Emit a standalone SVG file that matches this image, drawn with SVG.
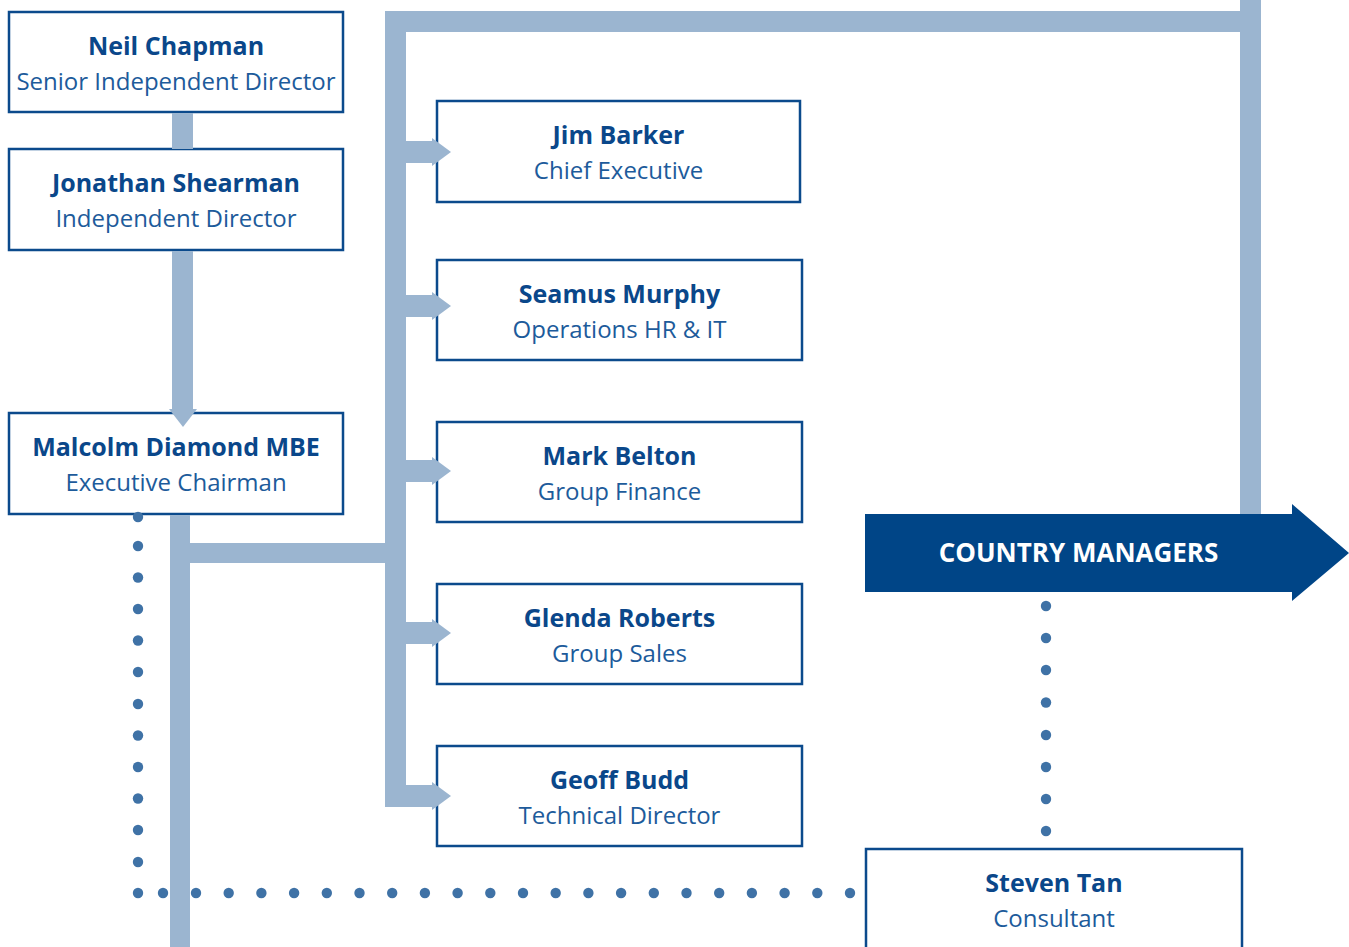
<svg xmlns="http://www.w3.org/2000/svg" width="1349" height="947" viewBox="0 0 1349 947">
  <style>
    .box { fill: #ffffff; stroke: #0b4a8c; stroke-width: 2.5; }
    .bar { fill: #9bb5d0; }
    .dot { fill: #3f72a6; }
    .name { font-family: "Open Sans", "Noto Sans", sans-serif; font-weight: bold; font-size: 25px; fill: #0a478a; text-anchor: middle; }
    .role { font-family: "Open Sans", "Noto Sans", sans-serif; font-size: 24px; fill: #1d5b9b; text-anchor: middle; }
    .banner { font-family: "Open Sans", "Noto Sans", sans-serif; font-weight: bold; font-size: 26px; fill: #ffffff; text-anchor: middle; }
  </style>
  <defs>
    <!-- short arrow from the spine into a box, drawn at y = 0 -->
    <g id="spur">
      <rect class="bar" x="405" y="-11" width="28" height="22"/>
      <polygon class="bar" points="432,-14 451,0 432,14"/>
    </g>
  </defs>

  <rect width="1349" height="947" fill="#ffffff"/>

  <!-- nodes -->
  <g id="neil-chapman">
    <rect class="box" x="9" y="12" width="334" height="100"/>
    <text class="name" x="176" y="54.5">Neil Chapman</text>
    <text class="role" x="176" y="90">Senior Independent Director</text>
  </g>
  <g id="jonathan-shearman">
    <rect class="box" x="9" y="149" width="334" height="101"/>
    <text class="name" x="176" y="191.5">Jonathan Shearman</text>
    <text class="role" x="176" y="227">Independent Director</text>
  </g>
  <g id="malcolm-diamond">
    <rect class="box" x="9" y="413" width="334" height="101"/>
    <text class="name" x="176" y="455.5">Malcolm Diamond MBE</text>
    <text class="role" x="176" y="491">Executive Chairman</text>
  </g>
  <g id="jim-barker">
    <rect class="box" x="437" y="101" width="363" height="101"/>
    <text class="name" x="618.5" y="143.5">Jim Barker</text>
    <text class="role" x="618.5" y="179">Chief Executive</text>
  </g>
  <g id="seamus-murphy">
    <rect class="box" x="437" y="260" width="365" height="100"/>
    <text class="name" x="619.5" y="302.5">Seamus Murphy</text>
    <text class="role" x="619.5" y="338">Operations HR &amp; IT</text>
  </g>
  <g id="mark-belton">
    <rect class="box" x="437" y="422" width="365" height="100"/>
    <text class="name" x="619.5" y="464.5">Mark Belton</text>
    <text class="role" x="619.5" y="500">Group Finance</text>
  </g>
  <g id="glenda-roberts">
    <rect class="box" x="437" y="584" width="365" height="100"/>
    <text class="name" x="619.5" y="626.5">Glenda Roberts</text>
    <text class="role" x="619.5" y="662">Group Sales</text>
  </g>
  <g id="geoff-budd">
    <rect class="box" x="437" y="746" width="365" height="100"/>
    <text class="name" x="619.5" y="788.5">Geoff Budd</text>
    <text class="role" x="619.5" y="824">Technical Director</text>
  </g>
  <g id="steven-tan">
    <rect class="box" x="866" y="849" width="376" height="110"/>
    <text class="name" x="1054" y="891.5">Steven Tan</text>
    <text class="role" x="1054" y="927">Consultant</text>
  </g>

  <!-- connectors -->
  <g id="connectors">
    <!-- board chain -->
    <rect class="bar" x="172" y="113" width="21" height="36"/>
    <rect class="bar" x="172" y="251" width="21" height="159"/>
    <polygon class="bar" points="169,409 197,409 183,427"/>
    <!-- chairman down-line and branch to the spine -->
    <rect class="bar" x="170" y="515" width="20" height="432"/>
    <rect class="bar" x="190" y="543" width="196" height="20"/>
    <!-- executive spine, top run and right drop -->
    <rect class="bar" x="385" y="11" width="21" height="796"/>
    <rect class="bar" x="385" y="11" width="876" height="21"/>
    <rect class="bar" x="1240" y="0" width="21" height="515"/>
    <rect class="bar" x="385" y="786" width="22" height="21"/>
    <use href="#spur" y="152"/>
    <use href="#spur" y="306"/>
    <use href="#spur" y="471"/>
    <use href="#spur" y="633"/>
    <use href="#spur" y="796"/>

    <!-- dotted reporting lines -->
    <g id="dots-chairman">
      <circle class="dot" cx="138" cy="517" r="5.2"/>
      <circle class="dot" cx="138" cy="546" r="5.2"/>
      <circle class="dot" cx="138" cy="577.5" r="5.2"/>
      <circle class="dot" cx="138" cy="609" r="5.2"/>
      <circle class="dot" cx="138" cy="640.5" r="5.2"/>
      <circle class="dot" cx="138" cy="672" r="5.2"/>
      <circle class="dot" cx="138" cy="704" r="5.2"/>
      <circle class="dot" cx="138" cy="735.5" r="5.2"/>
      <circle class="dot" cx="138" cy="767" r="5.2"/>
      <circle class="dot" cx="138" cy="798.5" r="5.2"/>
      <circle class="dot" cx="138" cy="830" r="5.2"/>
      <circle class="dot" cx="138" cy="862" r="5.2"/>
      <circle class="dot" cx="138" cy="893" r="5.2"/>
      <circle class="dot" cx="163" cy="893" r="5.2"/>
      <circle class="dot" cx="196" cy="893" r="5.2"/>
      <circle class="dot" cx="228.7" cy="893" r="5.2"/>
      <circle class="dot" cx="261.4" cy="893" r="5.2"/>
      <circle class="dot" cx="294.1" cy="893" r="5.2"/>
      <circle class="dot" cx="326.8" cy="893" r="5.2"/>
      <circle class="dot" cx="359.5" cy="893" r="5.2"/>
      <circle class="dot" cx="392.2" cy="893" r="5.2"/>
      <circle class="dot" cx="424.9" cy="893" r="5.2"/>
      <circle class="dot" cx="457.6" cy="893" r="5.2"/>
      <circle class="dot" cx="490.3" cy="893" r="5.2"/>
      <circle class="dot" cx="523" cy="893" r="5.2"/>
      <circle class="dot" cx="555.7" cy="893" r="5.2"/>
      <circle class="dot" cx="588.4" cy="893" r="5.2"/>
      <circle class="dot" cx="621.1" cy="893" r="5.2"/>
      <circle class="dot" cx="653.8" cy="893" r="5.2"/>
      <circle class="dot" cx="686.5" cy="893" r="5.2"/>
      <circle class="dot" cx="719.2" cy="893" r="5.2"/>
      <circle class="dot" cx="751.9" cy="893" r="5.2"/>
      <circle class="dot" cx="784.6" cy="893" r="5.2"/>
      <circle class="dot" cx="817.3" cy="893" r="5.2"/>
      <circle class="dot" cx="850" cy="893" r="5.2"/>
    </g>
    <g id="dots-consultant">
      <circle class="dot" cx="1046" cy="606" r="5.2"/>
      <circle class="dot" cx="1046" cy="638" r="5.2"/>
      <circle class="dot" cx="1046" cy="670" r="5.2"/>
      <circle class="dot" cx="1046" cy="702.5" r="5.2"/>
      <circle class="dot" cx="1046" cy="735" r="5.2"/>
      <circle class="dot" cx="1046" cy="767" r="5.2"/>
      <circle class="dot" cx="1046" cy="799" r="5.2"/>
      <circle class="dot" cx="1046" cy="831" r="5.2"/>
    </g>
  </g>

  <!-- banner arrow -->
  <g id="country-managers">
    <polygon fill="#004587" points="865,514 1292,514 1292,504 1349,553 1292,601 1292,592 865,592"/>
    <text class="banner" x="1078.5" y="562">COUNTRY MANAGERS</text>
  </g>
</svg>
